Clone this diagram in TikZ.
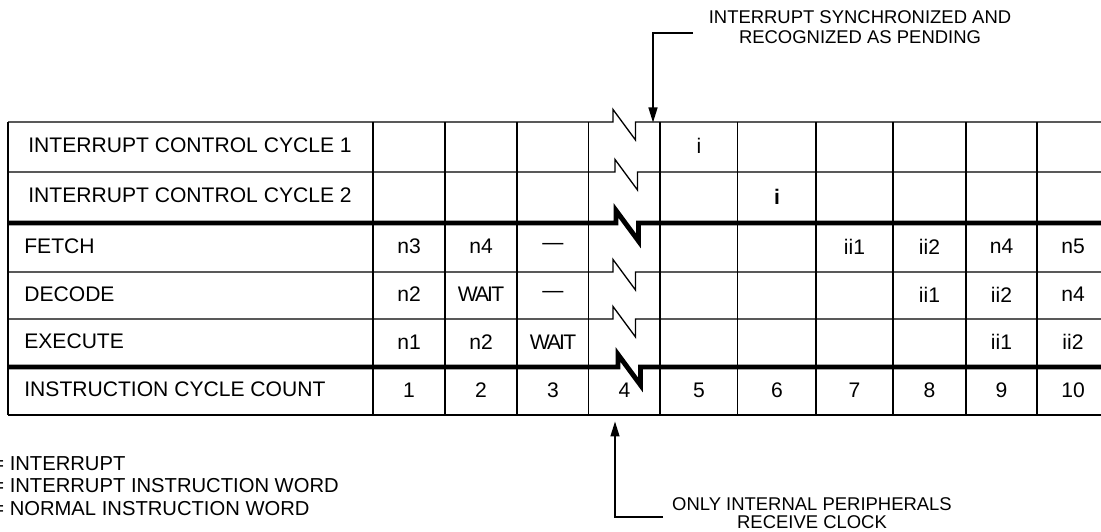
\documentclass[tikz,border=0pt]{standalone}
\usepackage{fontspec}
\setmainfont{Liberation Sans}
\usetikzlibrary{arrows.meta}

\newcommand{\waitword}{W\kern-0.12em A\kern-0.1em I\kern-0.08em T}

\tikzset{
  thinrule/.style={line width=0.75pt},
  cell/.style={inner sep=0pt, font=\fontsize{12}{14}\selectfont},
  rowlbl/.style={cell, anchor=west},
  note/.style={inner sep=0pt, align=center, font=\fontsize{10.5}{11.4}\selectfont},
  keytext/.style={inner sep=0pt, align=left, anchor=west, font=\fontsize{11.5}{12.8}\selectfont},
  pointer/.style={line width=0.75pt, -{Triangle[length=0.3cm,width=0.18cm]}},
}

\begin{document}
\begin{tikzpicture}
    \useasboundingbox (0,0) rectangle (22.02,10.62);
    % table grid, rows broken in column 4
    \foreach \x in {0.16,7.46,8.90,10.34,11.77,13.20,14.75,16.32,17.86,19.32,20.74,22.18}
      \draw[thinrule] (\x,8.18) -- (\x,2.32);
    \foreach \y/\xz/\lw in {8.18/12.26/0.75pt, 7.18/12.30/0.75pt, 6.16/12.32/2.8pt, 5.18/12.26/0.75pt, 4.24/12.26/0.75pt, 3.28/12.36/2.8pt}
      \draw[line width=\lw] (0.16,\y) -- (\xz,\y) -- ++(0,0.25) -- ++(0.45,-0.61) |- (22.18,\y);
    \draw[thinrule] (0.16,2.32) -- (22.18,2.32);

    % row labels
    \node[rowlbl] (icca) at (0.56,7.72) {INTERRUPT CONTROL CYCLE 1};
    \node[rowlbl] (iccb) at (0.56,6.71) {INTERRUPT CONTROL CYCLE 2};
    \node[rowlbl] (fetch) at (0.48,5.70) {FETCH};
    \node[rowlbl] (decode) at (0.48,4.74) {DECODE};
    \node[rowlbl] (execute) at (0.48,3.79) {EXECUTE};
    \node[rowlbl] (count) at (0.48,2.83) {INSTRUCTION CYCLE COUNT};

    % cell entries
    \node[cell] (icca5) at (13.98,7.70) {i};
    \node[cell] (iccb6) at (15.54,6.69) {\textbf{i}};
    \foreach \x/\t [count=\c] in {8.18/n3, 9.62/n4, 11.06/\textemdash, 17.09/ii1, 18.59/ii2, 20.03/n4, 21.46/n5}
      \node[cell] (fetch\c) at (\x,5.69) {\t};
    \foreach \x/\t [count=\c] in {8.18/n2, 9.62/\waitword, 11.06/\textemdash, 18.59/ii1, 20.03/ii2, 21.46/n4}
      \node[cell] (decode\c) at (\x,4.73) {\t};
    \foreach \x/\t [count=\c] in {8.18/n1, 9.62/n2, 11.06/\waitword, 20.03/ii1, 21.46/ii2}
      \node[cell] (execute\c) at (\x,3.78) {\t};
    \foreach \x [count=\c] in {8.18,9.62,11.06,12.49,13.98,15.54,17.09,18.59,20.03,21.46}
      \node[cell] (count\c) at (\x,2.82) {\c};

    % key
    \node[keytext] (legend) at (-0.16,0.90) {= INTERRUPT\\= INTERRUPT INSTRUCTION WORD\\= NORMAL INSTRUCTION WORD};

    % annotations
    \node[note] (synclbl) at (17.2,10.07) {INTERRUPT SYNCHRONIZED AND\\RECOGNIZED AS PENDING};
    \node[note, font=\fontsize{10.5}{10.2}\selectfont] (clocklbl) at (16.24,0.35) {ONLY INTERNAL PERIPHERALS\\RECEIVE CLOCK};
    \coordinate (syncfrom) at (13.86,9.96);
    \coordinate (syncto) at (13.06,8.17);
    \draw[pointer] (syncfrom) -| (syncto);
    \coordinate (clockfrom) at (13.26,0.28);
    \coordinate (clockto) at (12.30,2.19);
    \draw[pointer] (clockfrom) -| (clockto);
\end{tikzpicture}
\end{document}
